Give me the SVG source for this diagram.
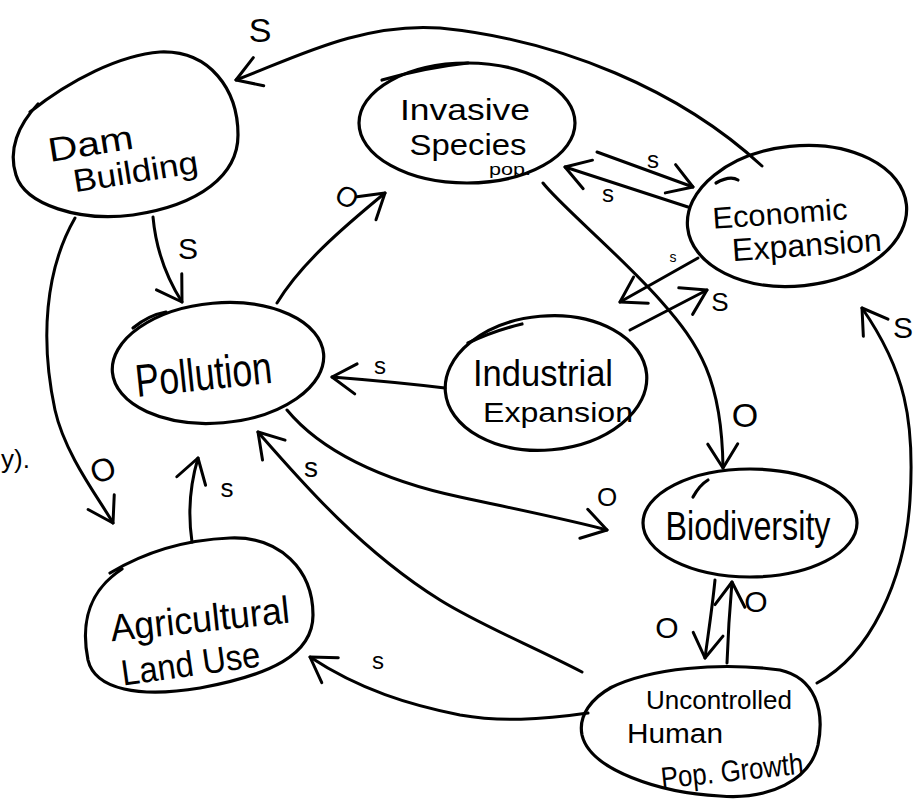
<svg xmlns="http://www.w3.org/2000/svg" width="921" height="799" viewBox="0 0 921 799">
<style>
.node{fill:none;stroke:#000;stroke-width:3.2;stroke-linecap:round;stroke-linejoin:round}
.conn path{fill:none;stroke:#000;stroke-width:3;stroke-linecap:round;stroke-linejoin:round;marker-end:url(#arr)}
.t{font-family:"Liberation Sans","DejaVu Sans",sans-serif;fill:#000;text-anchor:middle}
.lbl{font-family:"Liberation Sans","DejaVu Sans",sans-serif;fill:#000;text-anchor:middle;dominant-baseline:central}
</style>
<defs>
<marker id="arr" markerUnits="userSpaceOnUse" markerWidth="60" markerHeight="60" refX="0" refY="0" viewBox="-30 -30 60 60" orient="auto" overflow="visible">
<path d="M -24,-15 L 0,0 L -24,15" fill="none" stroke="#000" stroke-width="3" stroke-linecap="round" stroke-linejoin="round"/>
</marker>
</defs>
<rect width="921" height="799" fill="#fff"/>
<text x="1" y="468" font-size="26" font-family="Liberation Sans, DejaVu Sans, sans-serif" fill="#000">y).</text>

<g id="dam-building">
<path class="node" d="M 30,112 C 70,80 120,55 160,52 C 210,50 238,90 238,135 C 238,175 200,205 133,215 C 80,222 25,205 16,175 C 8,150 18,125 38,104"/>
<g transform="rotate(-9 125 150)">
<text class="t" x="92" y="150" font-size="34" textLength="86" lengthAdjust="spacingAndGlyphs">Dam</text>
<text class="t" x="132" y="184" font-size="32" textLength="126" lengthAdjust="spacingAndGlyphs">Building</text>
</g>
</g>

<g id="pollution">
<ellipse class="node" cx="218" cy="363" rx="106" ry="60" transform="rotate(-5 218 363)"/>
<path class="node" d="M 133,328 C 145,318 155,314 166,312"/>
<text class="t" x="203" y="390" font-size="46" textLength="137" lengthAdjust="spacingAndGlyphs" transform="rotate(-6 203 370)">Pollution</text>
</g>

<g id="invasive-species">
<ellipse class="node" cx="467" cy="123" rx="108" ry="60"/>
<path class="node" d="M 382,80 C 410,72 440,66 468,63"/>
<text class="t" x="465" y="120" font-size="30" textLength="130" lengthAdjust="spacingAndGlyphs">Invasive</text>
<text class="t" x="468" y="155" font-size="30" textLength="117" lengthAdjust="spacingAndGlyphs">Species</text>
<text class="t" x="510" y="175" font-size="16" textLength="42" lengthAdjust="spacingAndGlyphs">pop.</text>
</g>

<g id="economic-expansion">
<ellipse class="node" cx="797" cy="216" rx="110" ry="70" transform="rotate(-6 797 216)"/>
<path class="node" d="M 716,183 C 725,178 733,177 738,180"/>
<text class="t" x="780" y="224" font-size="30" textLength="135" lengthAdjust="spacingAndGlyphs" transform="rotate(-4 780 215)">Economic</text>
<text class="t" x="807" y="256" font-size="32" textLength="150" lengthAdjust="spacingAndGlyphs" transform="rotate(-4 807 247)">Expansion</text>
</g>

<g id="industrial-expansion">
<ellipse class="node" cx="546" cy="383" rx="101" ry="67" transform="rotate(-5 546 383)"/>
<path class="node" d="M 468,343 C 485,335 505,328 522,324"/>
<text class="t" x="543" y="386" font-size="36" textLength="140" lengthAdjust="spacingAndGlyphs">Industrial</text>
<text class="t" x="558" y="422" font-size="28" textLength="150" lengthAdjust="spacingAndGlyphs">Expansion</text>
</g>

<g id="biodiversity">
<ellipse class="node" cx="750" cy="523" rx="107" ry="54"/>
<path class="node" d="M 693,497 C 698,488 703,483 708,480"/>
<text class="t" x="748" y="540" font-size="40" textLength="165" lengthAdjust="spacingAndGlyphs">Biodiversity</text>
</g>

<g id="agricultural-land-use">
<path class="node" d="M 110,573 C 140,555 180,540 230,538 C 280,536 313,570 313,615 C 313,655 270,675 200,688 C 140,698 95,690 88,660 C 80,620 90,590 122,569"/>
<text class="t" x="200" y="632" font-size="38" textLength="180" lengthAdjust="spacingAndGlyphs" transform="rotate(-6 200 620)">Agricultural</text>
<text class="t" x="190" y="676" font-size="36" textLength="140" lengthAdjust="spacingAndGlyphs" transform="rotate(-8 190 660)">Land Use</text>
</g>

<g id="uncontrolled-growth">
<path class="node" d="M 610,688 C 650,668 720,662 780,670 C 815,678 825,710 818,745 C 810,780 770,800 720,796 C 660,793 590,770 582,735 C 578,715 592,698 612,687"/>
<text class="t" x="719" y="709" font-size="26" textLength="146" lengthAdjust="spacingAndGlyphs">Uncontrolled</text>
<text class="t" x="675" y="743" font-size="27" textLength="96" lengthAdjust="spacingAndGlyphs">Human</text>
<text class="t" x="732" y="781" font-size="30" textLength="143" lengthAdjust="spacingAndGlyphs" transform="rotate(-6 732 771)">Pop. Growth</text>
</g>

<g id="connectors" class="conn">
<path d="M 762,166 C 680,90 560,40 440,28 C 360,22 290,60 236,80"/>
<path d="M 153,217 C 156,250 168,280 182,302"/>
<path d="M 75,218 C 45,270 40,340 55,410 C 65,455 100,500 113,523"/>
<path d="M 277,303 C 300,265 340,230 385,193"/>
<path d="M 445,388 C 420,385 370,380 332,377"/>
<path d="M 287,410 C 320,450 380,480 460,497 C 520,510 570,520 607,530"/>
<path d="M 582,672 C 530,645 480,625 440,600 C 360,550 300,480 258,432"/>
<path d="M 588,713 C 540,720 500,722 460,715 C 410,705 360,690 310,657"/>
<path d="M 192,542 C 188,515 190,485 198,458"/>
<path d="M 597,152 L 693,187"/>
<path d="M 688,207 L 565,167"/>
<path d="M 543,183 C 560,205 620,255 660,300 C 700,345 722,380 723,468"/>
<path d="M 698,258 L 620,302"/>
<path d="M 630,330 L 707,290"/>
<path d="M 715,580 C 712,610 708,635 705,658"/>
<path d="M 727,663 C 728,635 730,605 732,582"/>
<path d="M 817,683 C 870,655 905,580 910,500 C 915,420 905,370 862,308"/>
</g>

<g id="labels">
<text class="lbl" x="260" y="30" font-size="34">S</text>
<text class="lbl" x="188" y="248" font-size="30">S</text>
<text class="lbl" x="103" y="470" font-size="32" transform="rotate(-20 103 470)">O</text>
<text class="lbl" x="347" y="197" font-size="28" transform="rotate(30 347 197)">O</text>
<text class="lbl" x="380" y="365" font-size="24">s</text>
<text class="lbl" x="227" y="488" font-size="26">s</text>
<text class="lbl" x="311" y="467" font-size="28">s</text>
<text class="lbl" x="378" y="660" font-size="24">s</text>
<text class="lbl" x="607" y="497" font-size="26">O</text>
<text class="lbl" x="653" y="159" font-size="24">s</text>
<text class="lbl" x="608" y="193" font-size="24">s</text>
<text class="lbl" x="745" y="415" font-size="34">O</text>
<text class="lbl" x="673" y="257" font-size="14">s</text>
<text class="lbl" x="720" y="302" font-size="26">S</text>
<text class="lbl" x="667" y="627" font-size="30">O</text>
<text class="lbl" x="756" y="601" font-size="30">O</text>
<text class="lbl" x="903" y="327" font-size="30">S</text>
</g>
</svg>
